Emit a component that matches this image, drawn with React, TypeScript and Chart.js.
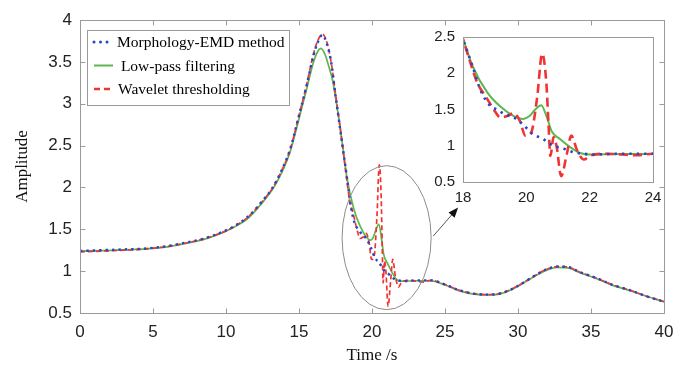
import React, { useEffect, useRef } from "react";
import { Chart, registerables } from "chart.js";

Chart.register(...registerables);

// ---------- data ----------
const morphT = [0, 1.5, 3, 4.5, 6, 7.5, 8.5, 9.5, 10.5, 11.5, 12.5, 13.2, 13.8, 14.4, 15, 15.5, 16, 16.3, 16.6, 16.9, 17.2, 17.5, 17.8, 18, 18.3, 18.55, 18.86, 19.07, 19.34, 19.6, 19.9, 20.2, 20.5, 20.86, 21.18, 21.5, 21.8, 22.1, 23, 24, 25, 26, 27, 28, 28.7, 29.5, 30.2, 31, 32, 32.7, 33.4, 34.2, 35.4, 36.5, 37.7, 38.8, 40];
const morphV = [1.24, 1.25, 1.26, 1.27, 1.3, 1.35, 1.39, 1.45, 1.53, 1.65, 1.84, 2.0, 2.2, 2.46, 2.86, 3.2, 3.58, 3.74, 3.82, 3.72, 3.5, 3.1, 2.72, 2.47, 2.1, 1.77, 1.55, 1.5, 1.43, 1.39, 1.29, 1.16, 1.1, 1.0, 0.96, 0.91, 0.89, 0.88, 0.89, 0.89, 0.84, 0.77, 0.73, 0.72, 0.73, 0.78, 0.845, 0.93, 1.025, 1.055, 1.05, 0.99, 0.915, 0.835, 0.77, 0.7, 0.635];

const lowT = [0, 1.5, 3, 4.5, 6, 7.5, 8.5, 9.5, 10.5, 11.5, 12.5, 13.2, 13.8, 14.4, 15, 15.5, 16, 16.3, 16.5, 16.8, 17.0, 17.3, 17.5, 17.8, 18, 18.3, 18.76, 19.18, 19.6, 19.9, 20.1, 20.28, 20.47, 20.65, 20.8, 21.07, 21.39, 21.7, 22.0, 23, 24, 25, 26, 27, 28, 28.7, 29.5, 30.2, 31, 32, 32.7, 33.4, 34.2, 35.4, 36.5, 37.7, 38.8, 40];
const lowV = [1.24, 1.245, 1.255, 1.265, 1.29, 1.34, 1.38, 1.44, 1.52, 1.63, 1.82, 1.98, 2.17, 2.43, 2.82, 3.16, 3.5, 3.63, 3.66, 3.58, 3.47, 3.28, 3.08, 2.74, 2.48, 2.1, 1.74, 1.54, 1.41, 1.37, 1.41, 1.5, 1.56, 1.39, 1.2, 1.09, 0.98, 0.9, 0.88, 0.885, 0.885, 0.835, 0.765, 0.725, 0.715, 0.725, 0.775, 0.84, 0.925, 1.015, 1.045, 1.04, 0.985, 0.91, 0.83, 0.765, 0.7, 0.635];

const waveT = [0, 1.5, 3, 4.5, 6, 7.5, 8.5, 9.5, 10.5, 11.5, 12.5, 13.2, 13.8, 14.4, 15, 15.5, 16, 16.3, 16.6, 16.9, 17.2, 17.5, 17.8, 18, 18.23, 18.44, 18.76, 19.0, 19.18, 19.4, 19.6, 19.8, 19.97, 20.15, 20.34, 20.5, 20.63, 20.7, 20.76, 20.86, 20.96, 21.1, 21.28, 21.42, 21.6, 21.82, 22.0, 22.5, 23, 23.5, 24, 25, 26, 27, 28, 28.7, 29.5, 30.2, 31, 32, 32.7, 33.4, 34.2, 35.4, 36.5, 37.7, 38.8, 40];
const waveV = [1.23, 1.24, 1.25, 1.265, 1.295, 1.345, 1.385, 1.445, 1.525, 1.645, 1.835, 1.995, 2.195, 2.455, 2.86, 3.21, 3.6, 3.76, 3.83, 3.74, 3.5, 3.12, 2.74, 2.47, 2.15, 1.88, 1.65, 1.48, 1.39, 1.41, 1.45, 1.34, 1.14, 1.18, 1.66, 2.27, 1.88, 1.3, 0.86, 1.12, 0.98, 0.58, 0.89, 1.14, 0.94, 0.81, 0.86, 0.89, 0.88, 0.87, 0.89, 0.84, 0.77, 0.73, 0.72, 0.73, 0.78, 0.845, 0.93, 1.025, 1.055, 1.05, 0.99, 0.915, 0.835, 0.77, 0.7, 0.635];

const seriesNames = ["Morphology-EMD method", " Low-pass filtering", "Wavelet thresholding"];

const mainXTicks = [0, 5, 10, 15, 20, 25, 30, 35, 40];
const mainYTicks = [0.5, 1, 1.5, 2, 2.5, 3, 3.5, 4];
const insetXTicks = [18, 20, 22, 24];
const insetYTicks = [0.5, 1, 1.5, 2, 2.5];

const xTitle = "Time /s";
const yTitle = "Amplitude";

// zoom-region annotation (data units)
const ellipseCenter = { x: 21, y: 1.4 };
const ellipseRadius = { x: 3.05, y: 0.86 };
const arrowFrom = { x: 24.2, y: 1.42 };
const arrowTo = { x: 25.9, y: 1.76 };

// ---------- styles ----------
const BLUE = "#2447c8";
const GREEN = "#5cb84e";
const RED = "#f03434";
const AXIS_GRAY = "#9a9a9a";
const SANS = "'Liberation Sans', Arial, Helvetica, sans-serif";
const SERIF = "'Liberation Serif', 'Times New Roman', serif";

const pts = (t: number[], v: number[]) => t.map((x, i) => ({ x, y: v[i] }));

function makeDatasets(inset: boolean) {
  const common = { pointRadius: 0, fill: false, cubicInterpolationMode: "monotone" as const, clip: inset ? 0 : undefined };
  return [
    { ...common, label: seriesNames[0], data: pts(morphT, morphV), borderColor: BLUE, borderWidth: inset ? 2.6 : 2.4, borderDash: inset ? [2.4, 5] : [2.4, 4], order: 0 },
    { ...common, label: seriesNames[2], data: pts(waveT, waveV), borderColor: RED, borderWidth: inset ? 2.6 : 1.7, borderDash: inset ? [9, 5] : [5, 3], order: 1 },
    { ...common, label: seriesNames[1], data: pts(lowT, lowV), borderColor: GREEN, borderWidth: inset ? 2 : 1.7, order: 2 },
  ];
}

const framePlugin = {
  id: "frame",
  beforeDraw(chart: any, _a: any, opts: any) {
    if (!opts.fillWhite) return;
    const { ctx, chartArea: a } = chart;
    ctx.save();
    ctx.fillStyle = "#ffffff";
    ctx.fillRect(a.left, a.top, a.right - a.left, a.bottom - a.top);
    ctx.restore();
  },
  afterDraw(chart: any, _a: any, opts: any) {
    const { ctx, chartArea: a, scales } = chart;
    ctx.save();
    ctx.strokeStyle = AXIS_GRAY;
    ctx.lineWidth = 1;
    const L = Math.round(a.left) + 0.5, R = Math.round(a.right) + 0.5, T = Math.round(a.top) + 0.5, B = Math.round(a.bottom) + 0.5;
    ctx.strokeRect(L, T, R - L, B - T);
    const tl = opts.tickLen || 0;
    if (tl > 0) {
      ctx.beginPath();
      for (const t of scales.x.ticks) {
        const x = Math.round(scales.x.getPixelForValue(t.value)) + 0.5;
        ctx.moveTo(x, B); ctx.lineTo(x, B - tl);
        ctx.moveTo(x, T); ctx.lineTo(x, T + tl);
      }
      for (const t of scales.y.ticks) {
        const y = Math.round(scales.y.getPixelForValue(t.value)) + 0.5;
        ctx.moveTo(L, y); ctx.lineTo(L + tl, y);
        ctx.moveTo(R, y); ctx.lineTo(R - tl, y);
      }
      ctx.stroke();
    }
    ctx.restore();
  },
};

const annotPlugin = {
  id: "annot",
  afterDraw(chart: any) {
    const { ctx, chartArea: a, scales } = chart;
    const xs = scales.x, ys = scales.y;
    ctx.save();
    // ellipse
    const cx = xs.getPixelForValue(ellipseCenter.x);
    const cy = ys.getPixelForValue(ellipseCenter.y);
    const rx = xs.getPixelForValue(ellipseCenter.x + ellipseRadius.x) - cx;
    const ry = cy - ys.getPixelForValue(ellipseCenter.y + ellipseRadius.y);
    ctx.strokeStyle = "#8c8c8c";
    ctx.lineWidth = 1;
    ctx.beginPath();
    ctx.ellipse(cx, cy, rx, ry, 0, 0, Math.PI * 2);
    ctx.stroke();
    // arrow
    const x1 = xs.getPixelForValue(arrowFrom.x), y1 = ys.getPixelForValue(arrowFrom.y);
    const x2 = xs.getPixelForValue(arrowTo.x), y2 = ys.getPixelForValue(arrowTo.y);
    const ang = Math.atan2(y2 - y1, x2 - x1);
    ctx.strokeStyle = "#555";
    ctx.beginPath();
    ctx.moveTo(x1, y1);
    ctx.lineTo(x2 - 6 * Math.cos(ang), y2 - 6 * Math.sin(ang));
    ctx.stroke();
    ctx.fillStyle = "#111";
    ctx.beginPath();
    ctx.moveTo(x2, y2);
    ctx.lineTo(x2 - 10 * Math.cos(ang) + 4 * Math.sin(ang), y2 - 10 * Math.sin(ang) - 4 * Math.cos(ang));
    ctx.lineTo(x2 - 10 * Math.cos(ang) - 4 * Math.sin(ang), y2 - 10 * Math.sin(ang) + 4 * Math.cos(ang));
    ctx.closePath();
    ctx.fill();
    // legend
    const bx = a.left + 7, by = a.top + 10, bw = 202, bh = 75;
    ctx.fillStyle = "#ffffff";
    ctx.fillRect(bx, by, bw, bh);
    ctx.strokeStyle = AXIS_GRAY;
    ctx.strokeRect(bx + 0.5, by + 0.5, bw, bh);
    const rows = [
      { name: seriesNames[0], color: BLUE, dash: [0.01, 6.5], width: 3, cap: "round", tx: 30 },
      { name: seriesNames[1], color: GREEN, dash: [], width: 2, cap: "butt", tx: 30 },
      { name: seriesNames[2], color: RED, dash: [6, 4], width: 2.5, cap: "butt", tx: 31 },
    ];
    ctx.font = `15.5px ${SERIF}`;
    ctx.textBaseline = "middle";
    rows.forEach((r, i) => {
      const y = by + 12 + i * 23.5;
      ctx.strokeStyle = r.color;
      ctx.lineWidth = r.width;
      ctx.lineCap = r.cap as CanvasLineCap;
      ctx.setLineDash(r.dash);
      ctx.beginPath();
      ctx.moveTo(bx + 7, y);
      ctx.lineTo(bx + 26, y);
      ctx.stroke();
      ctx.setLineDash([]);
      ctx.lineCap = "butt";
      ctx.fillStyle = "#000";
      ctx.fillText(r.name, bx + r.tx, y + 1);
    });
    ctx.restore();
  },
};

const fmt = (v: any) => String(v);

function buildScales(opt: {
  xMin: number; xMax: number; yMin: number; yMax: number; xTicks: number[]; yTicks: number[];
  xH: number; yW: number; xPad: number; titles: boolean; fontSize: number;
}) {
  return {
    x: {
      type: "linear" as const,
      min: opt.xMin,
      max: opt.xMax,
      afterBuildTicks: (s: any) => { s.ticks = opt.xTicks.map((value) => ({ value })); },
      afterFit: (s: any) => { s.height = opt.xH; },
      grid: { display: false, drawTicks: false },
      border: { display: false },
      ticks: { font: { family: SANS, size: opt.fontSize }, color: "#222", padding: opt.xPad, maxRotation: 0, autoSkip: false, callback: fmt },
      title: { display: opt.titles, text: xTitle, font: { family: SERIF, size: 17 }, color: "#111", padding: { top: 0, bottom: 3 } },
    },
    y: {
      type: "linear" as const,
      min: opt.yMin,
      max: opt.yMax,
      afterBuildTicks: (s: any) => { s.ticks = opt.yTicks.map((value) => ({ value })); },
      afterFit: (s: any) => { s.width = opt.yW; },
      grid: { display: false, drawTicks: false },
      border: { display: false },
      ticks: { font: { family: SANS, size: opt.fontSize }, color: "#222", padding: 8, autoSkip: false, callback: fmt },
      title: { display: opt.titles, text: yTitle, font: { family: SERIF, size: 17 }, color: "#111", padding: { top: 12, bottom: 0 } },
    },
  };
}

export default function App() {
  const mainRef = useRef<HTMLCanvasElement>(null);
  const insetRef = useRef<HTMLCanvasElement>(null);

  useEffect(() => {
    const main = new Chart(mainRef.current as HTMLCanvasElement, {
      type: "line",
      data: { datasets: makeDatasets(false) as any },
      options: {
        animation: false,
        responsive: false,
        devicePixelRatio: 1,
        layout: { padding: { top: 20, right: 32, left: 0, bottom: 0 } },
        plugins: { legend: { display: false }, tooltip: { enabled: false }, frame: { tickLen: 5 } } as any,
        scales: buildScales({ xMin: 0, xMax: 40, yMin: 0.5, yMax: 4, xTicks: mainXTicks, yTicks: mainYTicks, xH: 56, yW: 80, xPad: 9, titles: true, fontSize: 17 }) as any,
      },
      plugins: [framePlugin, annotPlugin],
    });
    const inset = new Chart(insetRef.current as HTMLCanvasElement, {
      type: "line",
      data: { datasets: makeDatasets(true) as any },
      options: {
        animation: false,
        responsive: false,
        devicePixelRatio: 1,
        layout: { padding: { top: 14, right: 17, left: 0, bottom: 0 } },
        plugins: { legend: { display: false }, tooltip: { enabled: false }, frame: { tickLen: 0, fillWhite: true } } as any,
        scales: buildScales({ xMin: 18, xMax: 24, yMin: 0.5, yMax: 2.5, xTicks: insetXTicks, yTicks: insetYTicks, xH: 28, yW: 43, xPad: 7, titles: false, fontSize: 15 }) as any,
      },
      plugins: [framePlugin],
    });
    return () => {
      main.destroy();
      inset.destroy();
    };
  }, []);

  return (
    <div style={{ position: "absolute", left: 0, top: 0, width: 696, height: 369, background: "#ffffff" }}>
      <canvas ref={mainRef} width={696} height={369} style={{ position: "absolute", left: 0, top: 0, width: 696, height: 369 }} />
      <canvas ref={insetRef} width={250} height={190} style={{ position: "absolute", left: 420, top: 20, width: 250, height: 190 }} />
    </div>
  );
}
